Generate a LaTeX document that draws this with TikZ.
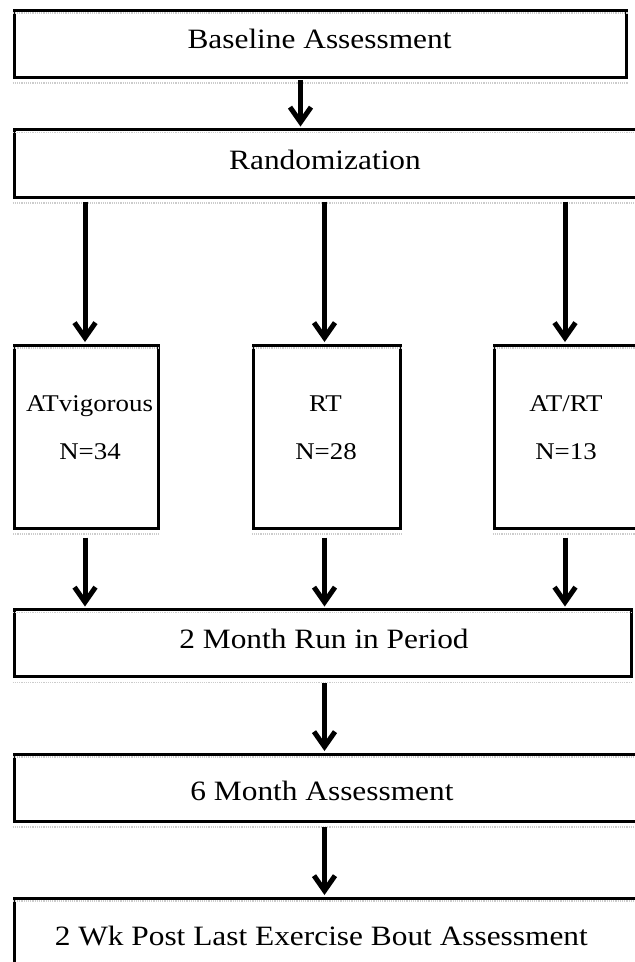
\documentclass[tikz,border=0pt]{standalone}
\usepackage{fontspec}
\setmainfont{Liberation Serif}[FakeStretch=1.12]
\usetikzlibrary{arrows.meta,calc}
\begin{document}
\begin{tikzpicture}[x=1pt,y=-1pt,
  box/.style={draw, line width=3pt, rectangle, inner sep=0pt},
  bigtxt/.style={font=\fontsize{28}{32}\selectfont, inner sep=0pt, anchor=base},
  smalltxt/.style={font=\fontsize{24}{28}\selectfont, inner sep=0pt, anchor=base},
  arr/.style={line width=5pt, -{Straight Barb[length=15pt,width=21pt]}},
  ghost/.style={draw=gray!40, line width=1.2pt, densely dotted}
]
\useasboundingbox (0,0) rectangle (635,962);

% boxes
\node[box, minimum width=612pt, minimum height=67pt] (b1) at (320,43.5) {};
\node[box, minimum width=631pt, minimum height=67.5pt] (b2) at (329.5,163.25) {};
\node[box, minimum width=144pt, minimum height=183pt] (bA) at (86.5,436.5) {};
\node[box, minimum width=147pt, minimum height=183pt] (bB) at (326.5,436.5) {};
\node[box, minimum width=156pt, minimum height=183pt] (bC) at (572,436.5) {};
\node[box, minimum width=617pt, minimum height=67pt] (b4) at (322.5,643) {};
\node[box, minimum width=631pt, minimum height=67pt] (b5) at (329.5,787.5) {};
\node[box, minimum width=631pt, minimum height=92pt] (b6) at (329.5,944) {};

% faint guide lines of the text boxes
\foreach \b in {b1,b2,bA,bB,bC,b4,b5,b6}{
  \draw[ghost] ($(\b.north west)+(0,4.5)$) -- ($(\b.north east)+(0,4.5)$);
  \draw[ghost] ($(\b.south west)+(0,4.5)$) -- ($(\b.south east)+(0,4.5)$);
}

% texts
\node[bigtxt] (t1) at (319.5,48.5) {Baseline Assessment};
\node[bigtxt] (t2) at (325,169.5) {Randomization};
\node[smalltxt] (tA1) at (89.5,411.5) {ATvigorous};
\node[smalltxt] (tA2) at (90,459) {N=34};
\node[smalltxt] (tB1) at (325.5,411.5) {RT};
\node[smalltxt] (tB2) at (326,459) {N=28};
\node[smalltxt] (tC1) at (566,411.5) {AT/RT};
\node[smalltxt] (tC2) at (566,459) {N=13};
\node[bigtxt] (t4) at (324,648) {2 Month Run in Period};
\node[bigtxt] (t5) at (322,800) {6 Month Assessment};
\node[bigtxt] (t6) at (321.3,945.5) {2 Wk Post Last Exercise Bout Assessment};

% arrow columns
\coordinate (x0) at (300.5,0);
\coordinate (xl) at (85,0);
\coordinate (xm) at (324.5,0);
\coordinate (xr) at (565,0);

\draw[arr, shorten <=1.5pt, shorten >=1.5pt] (b1.south -| x0) -- (b2.north -| x0);
\draw[arr, shorten <=3pt, shorten >=1.5pt] (b2.south -| xl) -- (bA.north -| xl);
\draw[arr, shorten <=3pt, shorten >=1.5pt] (b2.south -| xm) -- (bB.north -| xm);
\draw[arr, shorten <=3pt, shorten >=1.5pt] (b2.south -| xr) -- (bC.north -| xr);
\draw[arr, shorten <=8pt, shorten >=1.5pt] (bA.south -| xl) -- (b4.north -| xl);
\draw[arr, shorten <=8pt, shorten >=1.5pt] (bB.south -| xm) -- (b4.north -| xm);
\draw[arr, shorten <=8pt, shorten >=1.5pt] (bC.south -| xr) -- (b4.north -| xr);
\draw[arr, shorten <=5pt, shorten >=1.5pt] (b4.south -| xm) -- (b5.north -| xm);
\draw[arr, shorten <=4pt, shorten >=1.5pt] (b5.south -| xm) -- (b6.north -| xm);
\end{tikzpicture}
\end{document}
